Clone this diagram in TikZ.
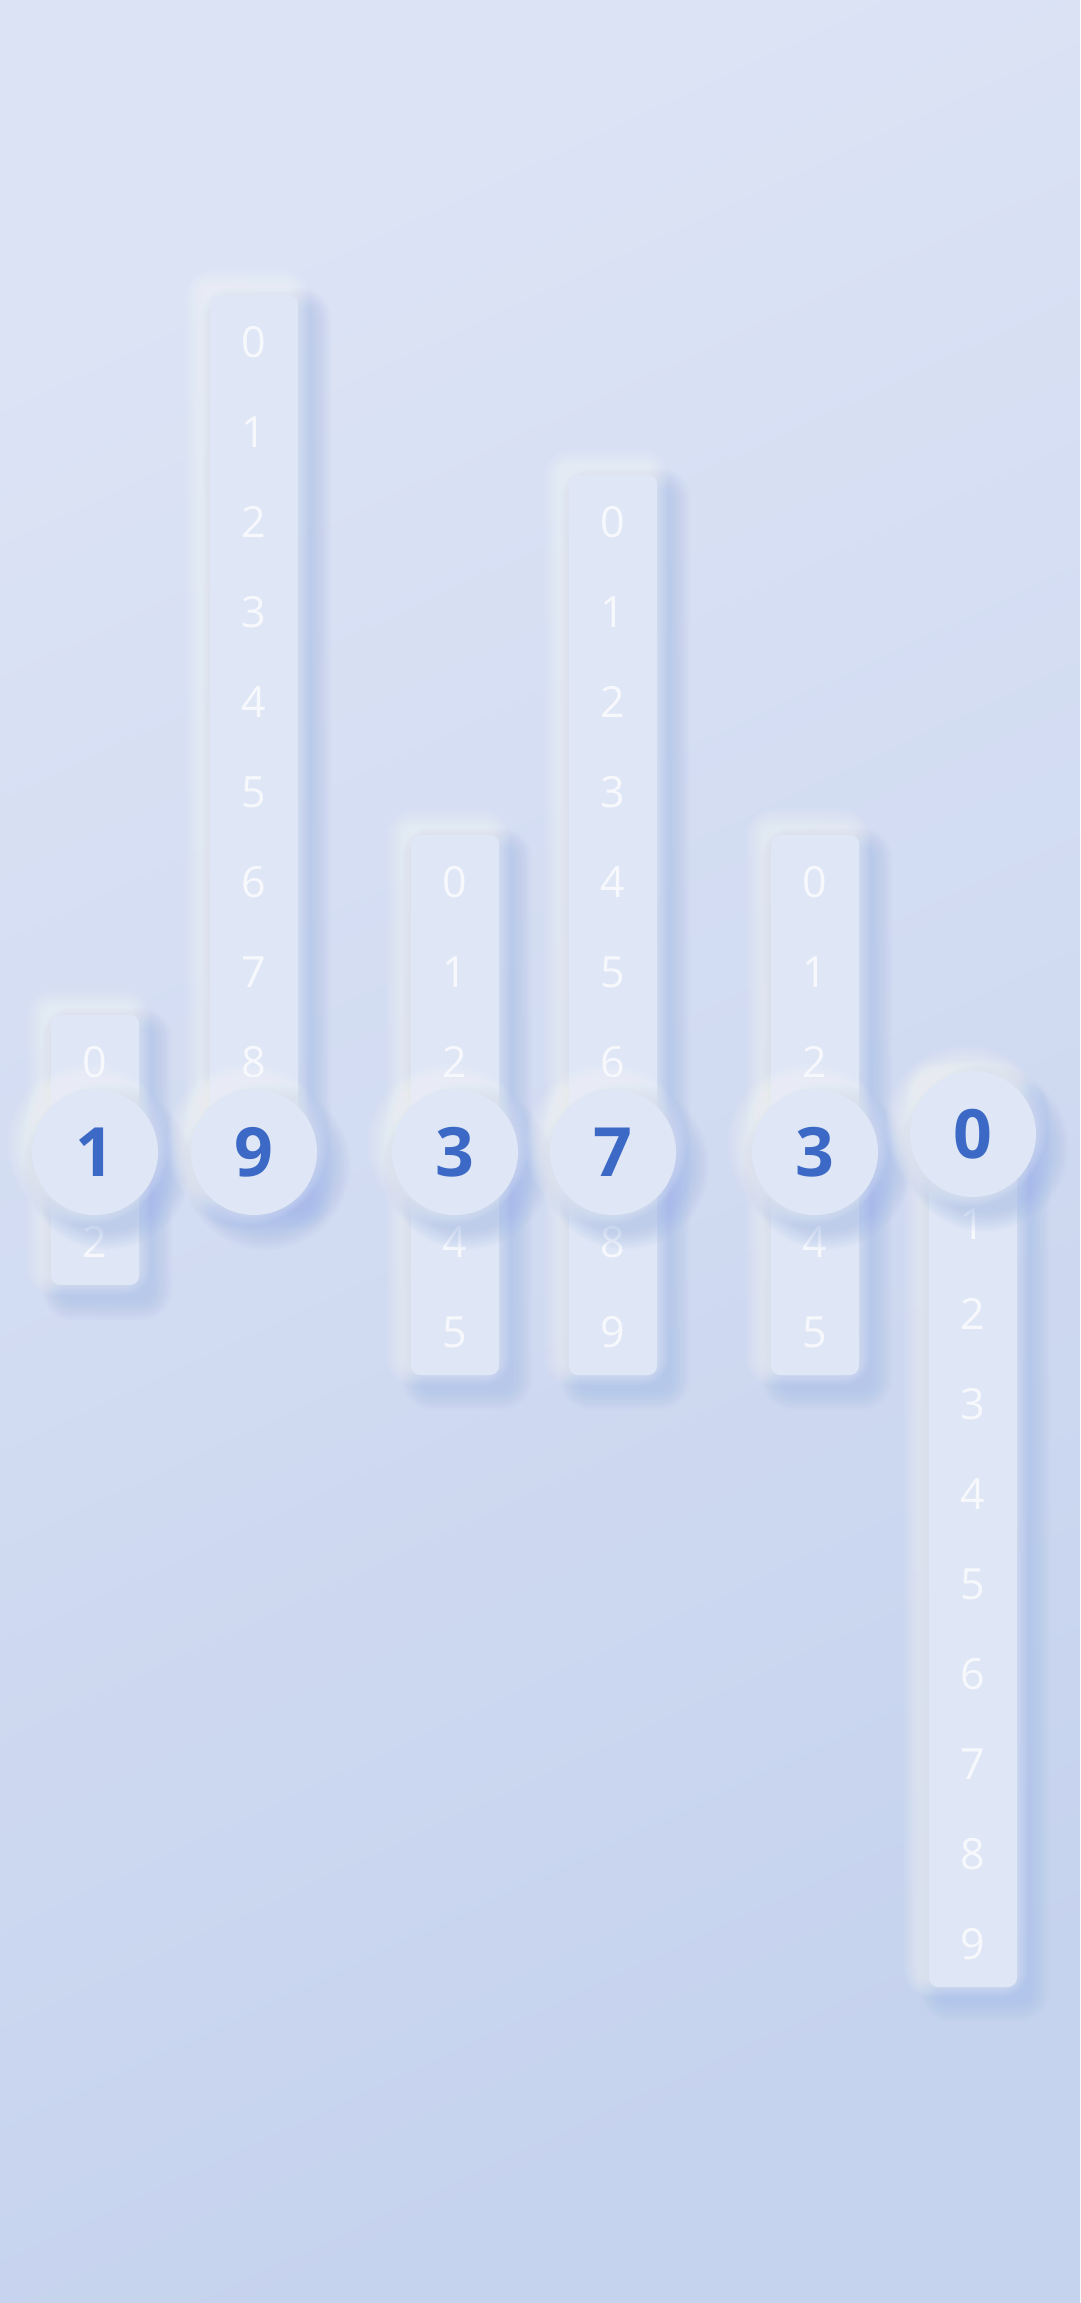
\documentclass[tikz,border=0pt]{standalone}
\usepackage{fontspec}
\setmainfont{Open Sans}
\usepackage{tikz}
\usetikzlibrary{positioning}

\definecolor{bgtop}{HTML}{DCE3F5}
\definecolor{bgbot}{HTML}{C6D3EE}
\definecolor{stripfill}{HTML}{DFE6F6}
\definecolor{knobfill}{HTML}{DFE6F5}
\definecolor{pickblue}{HTML}{3B69C5}
\definecolor{darkshade}{HTML}{A2BAEA}
\definecolor{lightglow}{HTML}{FAFCFF}

% soft neumorphic shadow round a rounded box: x1, y1, x2, y2
\newcommand{\softbox}[4]{%
  \foreach \i in {1,...,14}{
    \fill[darkshade, fill opacity=0.04, rounded corners={(9+1.5*\i)*1pt}]
      ({#1-1.5*\i+12},{#2-1.5*\i+14}) rectangle ({#3+1.5*\i+12},{#4+1.5*\i+14});
  }
  \foreach \i in {1,...,12}{
    \fill[lightglow, fill opacity=0.055, rounded corners={(9+1.5*\i)*1pt}]
      ({#1-1.5*\i-7},{#2-1.5*\i-8}) rectangle ({#3+1.5*\i-7},{#4+1.5*\i-8});
  }
}
% same for a round knob: x, y, radius
\newcommand{\softknob}[3]{%
  \foreach \i in {1,...,14}{
    \fill[darkshade, fill opacity=0.045] ({#1+12},{#2+14}) circle ({#3+1.5*\i});
  }
  \foreach \i in {1,...,12}{
    \fill[lightglow, fill opacity=0.055] ({#1-7},{#2-8}) circle ({#3+1.5*\i});
  }
}

\begin{document}
\begin{tikzpicture}[
    x=1pt, y=-1pt,
    strip/.style={fill=stripfill, rounded corners=9pt},
    digit/.style={inner sep=0, text=white, text opacity=0.75,
        font=\fontsize{43}{43}\selectfont},
    pick/.style={circle, inner sep=0, minimum size=126pt, fill=knobfill,
        text=pickblue, font=\fontsize{68}{68}\bfseries\selectfont}]

\useasboundingbox (0,0) rectangle (1080,2303);
\path[top color=bgtop, bottom color=bgbot, shading angle=25] (0,0) rectangle (1080,2303);

% strips: centre x / y of digit 0 / last digit / picked digit / name
\foreach \cx/\ty/\n/\s/\name in {95/1062/2/1/ha, 254/342/9/9/hb, 455/882/5/3/ma, 613/522/9/7/mb, 815/882/5/3/sa, 973/1134/9/0/sb}{
  \softbox{\cx-44}{\ty-47}{\cx+44}{\ty+90*\n+43}
  \fill[strip] ({\cx-44},{\ty-47}) rectangle ({\cx+44},{\ty+90*\n+43});
  \foreach \k in {0,...,\n}{
    \ifnum\k=\s\else
      \node[digit] (\name-\k) at (\cx,{\ty+90*\k}) {\k};
    \fi
  }
}

% picked digits
\foreach \cx/\cy/\d/\name in {95/1152/1/ha, 254/1152/9/hb, 455/1152/3/ma, 613/1152/7/mb, 815/1152/3/sa, 973/1134/0/sb}{
  \softknob{\cx}{\cy}{63}
  \node[pick] (pick-\name) at (\cx,\cy) {\d};
}

\end{tikzpicture}
\end{document}
